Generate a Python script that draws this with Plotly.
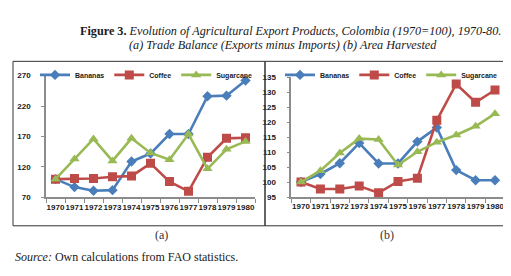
import plotly.graph_objects as go

years = [str(y) for y in range(1970, 1981)]

# (a) Trade balance, 1970=100
bananas_tb = [100, 87, 81, 82, 129, 142, 174, 174, 236, 237, 262]
coffee_tb = [100, 101, 101, 104, 105, 126, 96, 80, 136, 167, 168]
sugar_tb = [100, 133, 166, 130, 167, 143, 132, 174, 117, 149, 162]

# (b) Area harvested, 1970=100
bananas_ah = [100, 102.7, 106.3, 113, 106.2, 106.2, 113.5, 118.2, 104, 100.6, 100.6]
coffee_ah = [100, 97.7, 97.7, 98.7, 96.4, 100.2, 101.3, 120.6, 132.7, 126.6, 130.7]
sugar_ah = [100, 103.8, 109.7, 114.5, 114.2, 105.7, 110.1, 113.3, 115.7, 118.6, 122.8]

names = ['Bananas', 'Coffee', 'Sugarcane']
colors = ['#4A7EBB', '#BE4B48', '#98B954']
symbols = ['diamond', 'square', 'triangle-up']
sizes = [8, 9, 9]

W, H = 511, 276


def px(x):
    return x / W


def py(y):
    return 1 - y / H


fig = go.Figure()

for i, series in enumerate([bananas_tb, coffee_tb, sugar_tb]):
    fig.add_trace(go.Scatter(
        x=years, y=series, name=names[i], mode='lines+markers',
        line=dict(color=colors[i], width=2.6),
        marker=dict(symbol=symbols[i], size=sizes[i], color=colors[i]),
        xaxis='x', yaxis='y', legend='legend'
    ))

for i, series in enumerate([bananas_ah, coffee_ah, sugar_ah]):
    fig.add_trace(go.Scatter(
        x=years, y=series, name=names[i], mode='lines+markers',
        line=dict(color=colors[i], width=2.6),
        marker=dict(symbol=symbols[i], size=sizes[i], color=colors[i]),
        xaxis='x2', yaxis='y2', legend='legend2'
    ))

tick_font = dict(family='Liberation Sans', size=8, color='#1a1a1a', weight='bold')

xax = dict(type='category', tickson='boundaries', ticks='outside', ticklen=4,
           tickcolor='#8c8c8c', showline=True, linecolor='#8c8c8c', linewidth=1.5,
           showgrid=False, zeroline=False, tickfont=tick_font, ticklabelstandoff=1,
           tickangle=0, range=[-0.5, 10.5], fixedrange=True)
yax = dict(ticks='outside', ticklen=3, tickcolor='#8c8c8c', showline=True,
           linecolor='#8c8c8c', linewidth=1.5, showgrid=False, zeroline=False,
           tickfont=tick_font, ticklabelstandoff=9)

legend_style = dict(orientation='h', font=dict(family='Liberation Sans', size=7,
                    color='#1a1a1a', weight='bold'),
                    itemwidth=30, bgcolor='rgba(0,0,0,0)', yanchor='middle',
                    xanchor='left', tracegroupgap=0)

fig.update_layout(
    width=W, height=H,
    margin=dict(l=0, r=0, t=0, b=0),
    paper_bgcolor='white', plot_bgcolor='white',
    showlegend=True,
    xaxis=dict(xax, domain=[px(38), px(247)], anchor='y'),
    yaxis=dict(yax, domain=[py(191.7), py(65.7)], range=[70, 270],
               tickvals=[70, 120, 170, 220, 270], anchor='x'),
    xaxis2=dict(xax, domain=[px(283.3), px(496.7)], anchor='y2'),
    yaxis2=dict(yax, domain=[py(191.3), py(67.3)], range=[95, 135],
                tickvals=[95, 100, 105, 110, 115, 120, 125, 130, 135], anchor='x2'),
    legend=dict(legend_style, x=px(27), y=py(65)),
    legend2=dict(legend_style, x=px(272), y=py(65)),
    shapes=[
        dict(type='rect', xref='paper', yref='paper', x0=px(5), x1=px(257),
             y0=py(221), y1=py(51), line=dict(color='#333333', width=1)),
        dict(type='rect', xref='paper', yref='paper', x0=px(257), x1=px(507),
             y0=py(221), y1=py(51), line=dict(color='#333333', width=1)),
    ],
    annotations=[
        dict(text='<b>Figure 3.</b> <i>Evolution of Agricultural Export Products, '
                  'Colombia (1970=100), 1970-80.</i>',
             x=px(282), y=py(10), xref='paper', yref='paper', showarrow=False,
             font=dict(family='Liberation Serif', size=12.2, color='#1a1a1a')),
        dict(text='<i>(a) Trade Balance (Exports minus Imports) (b) Area Harvested</i>',
             x=px(275), y=py(25), xref='paper', yref='paper', showarrow=False,
             font=dict(family='Liberation Serif', size=12.2, color='#1a1a1a')),
        dict(text='(a)', x=px(145), y=py(240), xref='paper', yref='paper',
             showarrow=False, font=dict(family='Liberation Serif', size=12, color='#333333')),
        dict(text='(b)', x=px(388), y=py(240), xref='paper', yref='paper',
             showarrow=False, font=dict(family='Liberation Serif', size=12, color='#333333')),
        dict(text='<i>Source:</i> Own calculations from FAO statistics.',
             x=px(5), y=py(263), xref='paper', yref='paper', xanchor='left',
             showarrow=False, font=dict(family='Liberation Serif', size=12, color='#1a1a1a')),
    ],
)

fig.write_html("out.html")
